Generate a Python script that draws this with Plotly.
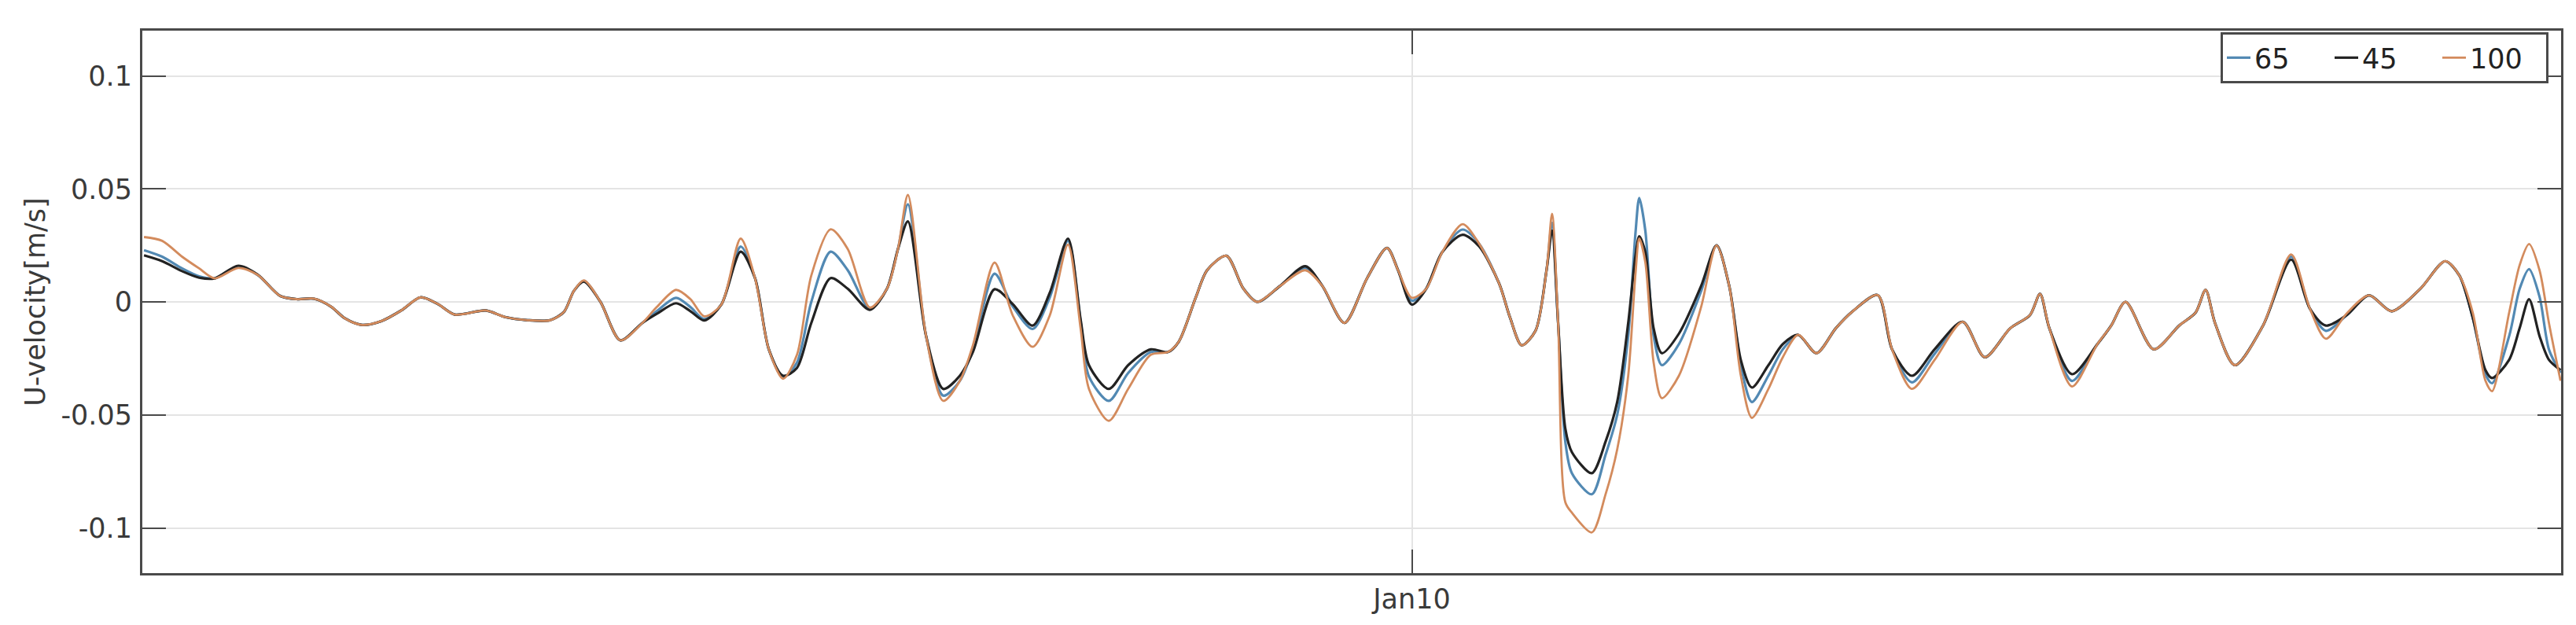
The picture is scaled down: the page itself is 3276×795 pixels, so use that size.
import pandas as pd
import plotly.graph_objects as go

# Time axis: hours after the first sample (09 Jan 01:00).
START = pd.Timestamp("2020-01-09 01:00")
END_HOURS = 43.82
HOURS = [
    0.03, 0.36, 0.72, 1.03, 1.31, 1.74, 2.09, 2.50, 2.81, 3.11,
    3.42, 3.67, 3.98, 4.33, 4.69, 5.04, 5.35, 5.66, 6.22, 6.57,
    6.98, 7.39, 7.64, 7.82, 8.00, 8.30, 8.66, 9.06, 9.32, 9.67,
    9.93, 10.18, 10.49, 10.84, 11.10, 11.35, 11.61, 11.86, 12.12, 12.47,
    12.78, 13.18, 13.49, 13.69, 13.87, 14.20, 14.51, 14.81, 15.05, 15.44,
    15.77, 16.13, 16.44, 16.77, 17.00, 17.15, 17.51, 17.86, 18.27, 18.58,
    18.78, 19.09, 19.29, 19.64, 19.95, 20.20, 20.61, 21.07, 21.38, 21.78,
    22.19, 22.55, 22.75, 23.00, 23.26, 23.55, 23.92, 24.22, 24.58, 24.78,
    24.99, 25.24, 25.44, 25.54, 25.65, 25.78, 25.90, 26.26, 26.51, 26.72,
    26.92, 27.05, 27.12, 27.23, 27.38, 27.53, 27.84, 28.24, 28.52, 28.75,
    28.96, 29.16, 29.46, 29.72, 30.00, 30.33, 30.68, 30.99, 31.44, 31.70,
    32.06, 32.47, 32.98, 33.38, 33.84, 34.20, 34.38, 34.55, 34.96, 35.42,
    35.67, 35.93, 36.44, 36.90, 37.20, 37.38, 37.55, 37.91, 38.42, 38.93,
    39.27, 39.56, 39.94, 40.34, 40.75, 41.27, 41.72, 41.98, 42.22, 42.45,
    42.57, 42.88, 43.07, 43.24, 43.43, 43.60, 43.81,
]

U_65 = [
    0.0229, 0.0200, 0.0148, 0.0113, 0.0104, 0.0155, 0.0119, 0.0026, 0.0012, 0.0014,
    -0.0021, -0.0073, -0.0102, -0.0085, -0.0038, 0.0020, -0.0009, -0.0056, -0.0038, -0.0067,
    -0.0081, -0.0081, -0.0044, 0.0049, 0.0093, 0.0000, -0.0170, -0.0093, -0.0041, 0.0018,
    -0.0023, -0.0076, -0.0012, 0.0245, 0.0105, -0.0210, -0.0333, -0.0269, 0.0000, 0.0222,
    0.0140, -0.0029, 0.0058, 0.0234, 0.0432, -0.0152, -0.0415, -0.0350, -0.0205, 0.0125,
    -0.0020, -0.0120, 0.0020, 0.0270, -0.0090, -0.0330, -0.0438, -0.0315, -0.0222, -0.0222,
    -0.0175, 0.0023, 0.0140, 0.0204, 0.0058, 0.0000, 0.0070, 0.0150, 0.0070, -0.0093,
    0.0105, 0.0239, 0.0140, 0.0005, 0.0058, 0.0220, 0.0320, 0.0257, 0.0082, -0.0070,
    -0.0192, -0.0128, 0.0140, 0.0350, -0.0093, -0.0618, -0.0758, -0.0851, -0.0676, -0.0500,
    -0.0150, 0.0300, 0.0460, 0.0315, -0.0150, -0.0280, -0.0186, 0.0047, 0.0250, 0.0070,
    -0.0280, -0.0443, -0.0326, -0.0210, -0.0146, -0.0227, -0.0117, -0.0041, 0.0030, -0.0210,
    -0.0356, -0.0230, -0.0088, -0.0245, -0.0117, -0.0058, 0.0035, -0.0117, -0.0350, -0.0187,
    -0.0105, 0.0000, -0.0210, -0.0105, -0.0047, 0.0053, -0.0093, -0.0280, -0.0105, 0.0200,
    -0.0030, -0.0128, -0.0058, 0.0029, -0.0041, 0.0058, 0.0180, 0.0116, -0.0070, -0.0320,
    -0.0360, -0.0151, 0.0058, 0.0145, 0.0023, -0.0210, -0.0314,
]

U_45 = [
    0.0206, 0.0180, 0.0136, 0.0107, 0.0104, 0.0160, 0.0121, 0.0026, 0.0012, 0.0014,
    -0.0021, -0.0073, -0.0102, -0.0085, -0.0038, 0.0020, -0.0009, -0.0056, -0.0038, -0.0067,
    -0.0081, -0.0081, -0.0044, 0.0049, 0.0090, 0.0000, -0.0170, -0.0093, -0.0053, -0.0006,
    -0.0041, -0.0082, -0.0012, 0.0222, 0.0105, -0.0210, -0.0327, -0.0292, -0.0093, 0.0105,
    0.0058, -0.0035, 0.0058, 0.0234, 0.0356, -0.0152, -0.0385, -0.0327, -0.0220, 0.0056,
    -0.0010, -0.0105, 0.0040, 0.0280, -0.0080, -0.0280, -0.0385, -0.0280, -0.0210, -0.0222,
    -0.0175, 0.0023, 0.0140, 0.0204, 0.0058, 0.0000, 0.0070, 0.0158, 0.0070, -0.0093,
    0.0105, 0.0239, 0.0140, -0.0012, 0.0058, 0.0220, 0.0297, 0.0245, 0.0082, -0.0070,
    -0.0192, -0.0128, 0.0140, 0.0315, -0.0093, -0.0560, -0.0665, -0.0758, -0.0618, -0.0443,
    -0.0093, 0.0200, 0.0290, 0.0220, -0.0117, -0.0227, -0.0140, 0.0070, 0.0250, 0.0070,
    -0.0257, -0.0379, -0.0280, -0.0187, -0.0146, -0.0227, -0.0117, -0.0041, 0.0030, -0.0210,
    -0.0327, -0.0210, -0.0088, -0.0245, -0.0117, -0.0058, 0.0035, -0.0117, -0.0320, -0.0187,
    -0.0105, 0.0000, -0.0210, -0.0105, -0.0047, 0.0053, -0.0093, -0.0280, -0.0105, 0.0187,
    -0.0030, -0.0105, -0.0058, 0.0029, -0.0041, 0.0058, 0.0180, 0.0116, -0.0070, -0.0302,
    -0.0337, -0.0256, -0.0116, 0.0012, -0.0151, -0.0256, -0.0302,
]

U_100 = [
    0.0287, 0.0270, 0.0200, 0.0148, 0.0104, 0.0150, 0.0119, 0.0026, 0.0012, 0.0014,
    -0.0021, -0.0073, -0.0102, -0.0085, -0.0038, 0.0020, -0.0009, -0.0056, -0.0038, -0.0067,
    -0.0081, -0.0081, -0.0044, 0.0049, 0.0095, 0.0000, -0.0170, -0.0093, -0.0023, 0.0053,
    0.0012, -0.0064, -0.0012, 0.0280, 0.0105, -0.0210, -0.0340, -0.0234, 0.0117, 0.0321,
    0.0234, -0.0025, 0.0058, 0.0234, 0.0473, -0.0152, -0.0438, -0.0350, -0.0190, 0.0174,
    -0.0060, -0.0199, -0.0060, 0.0254, -0.0120, -0.0385, -0.0526, -0.0385, -0.0234, -0.0222,
    -0.0175, 0.0023, 0.0140, 0.0204, 0.0058, 0.0000, 0.0070, 0.0140, 0.0070, -0.0093,
    0.0105, 0.0239, 0.0140, 0.0018, 0.0058, 0.0220, 0.0344, 0.0257, 0.0082, -0.0070,
    -0.0192, -0.0128, 0.0140, 0.0390, -0.0093, -0.0886, -0.0933, -0.1020, -0.0851, -0.0653,
    -0.0326, 0.0120, 0.0280, 0.0175, -0.0268, -0.0426, -0.0326, -0.0023, 0.0250, 0.0070,
    -0.0326, -0.0513, -0.0385, -0.0245, -0.0146, -0.0227, -0.0117, -0.0041, 0.0030, -0.0210,
    -0.0385, -0.0257, -0.0088, -0.0245, -0.0117, -0.0058, 0.0035, -0.0117, -0.0374, -0.0187,
    -0.0105, 0.0000, -0.0210, -0.0105, -0.0047, 0.0053, -0.0093, -0.0280, -0.0105, 0.0210,
    -0.0030, -0.0163, -0.0050, 0.0029, -0.0041, 0.0058, 0.0180, 0.0116, -0.0047, -0.0349,
    -0.0395, -0.0047, 0.0163, 0.0256, 0.0140, -0.0093, -0.0349,
]

SERIES = [("65", U_65, "#5289b3", 3.2), ("45", U_45, "#222222", 3.2), ("100", U_100, "#d38b5d", 2.8)]
Y_TICKS = [-0.1, -0.05, 0, 0.05, 0.1]
Y_TICK_TEXT = ["-0.1", "-0.05", "0", "0.05", "0.1"]
X_TICK = pd.Timestamp("2020-01-10 00:00")
X_TICK_TEXT = "Jan10"

_AXIS = "#4a4a4a"
_GRID = "#e4e4e4"
_FONT = "DejaVu Sans, Arial, sans-serif"

times = START + pd.to_timedelta(HOURS, unit="h")

fig = go.Figure()
for name, values, color, width in SERIES:
    fig.add_trace(go.Scatter(x=times, y=values, mode="lines", name=name,
                             line=dict(color=color, width=width, shape="spline", smoothing=0.8)))

fig.update_layout(
    width=3276,
    height=795,
    margin=dict(l=173, r=27, t=31, b=74),
    paper_bgcolor="white",
    plot_bgcolor="white",
    font=dict(family=_FONT, size=35, color="#3a3a3a"),
    showlegend=True,
    legend=dict(
        orientation="h", x=0.9948, xanchor="right", y=0.997, yanchor="top",
        bordercolor=_AXIS, borderwidth=3, bgcolor="white",
        font=dict(size=35, color="#222222"), entrywidth=92, entrywidthmode="pixels",
    ),
)
fig.update_xaxes(
    range=[START, START + pd.to_timedelta(END_HOURS, unit="h")],
    tickvals=[X_TICK], ticktext=[X_TICK_TEXT],
    ticks="inside", ticklen=30, tickwidth=2, tickcolor=_AXIS,
    showline=True, linecolor=_AXIS, linewidth=3, mirror="ticks",
    showgrid=True, gridcolor=_GRID, gridwidth=2, zeroline=False,
    ticklabelstandoff=0,
)
fig.update_yaxes(
    range=[-0.12, 0.12],
    tickvals=Y_TICKS, ticktext=Y_TICK_TEXT,
    ticks="inside", ticklen=30, tickwidth=2, tickcolor=_AXIS,
    showline=True, linecolor=_AXIS, linewidth=3, mirror="ticks",
    showgrid=True, gridcolor=_GRID, gridwidth=2, zeroline=False,
    ticklabelstandoff=3,
    title=dict(text="U-velocity[m/s]", font=dict(size=35, color="#3a3a3a"), standoff=10),
)

fig.write_html("out.html")
